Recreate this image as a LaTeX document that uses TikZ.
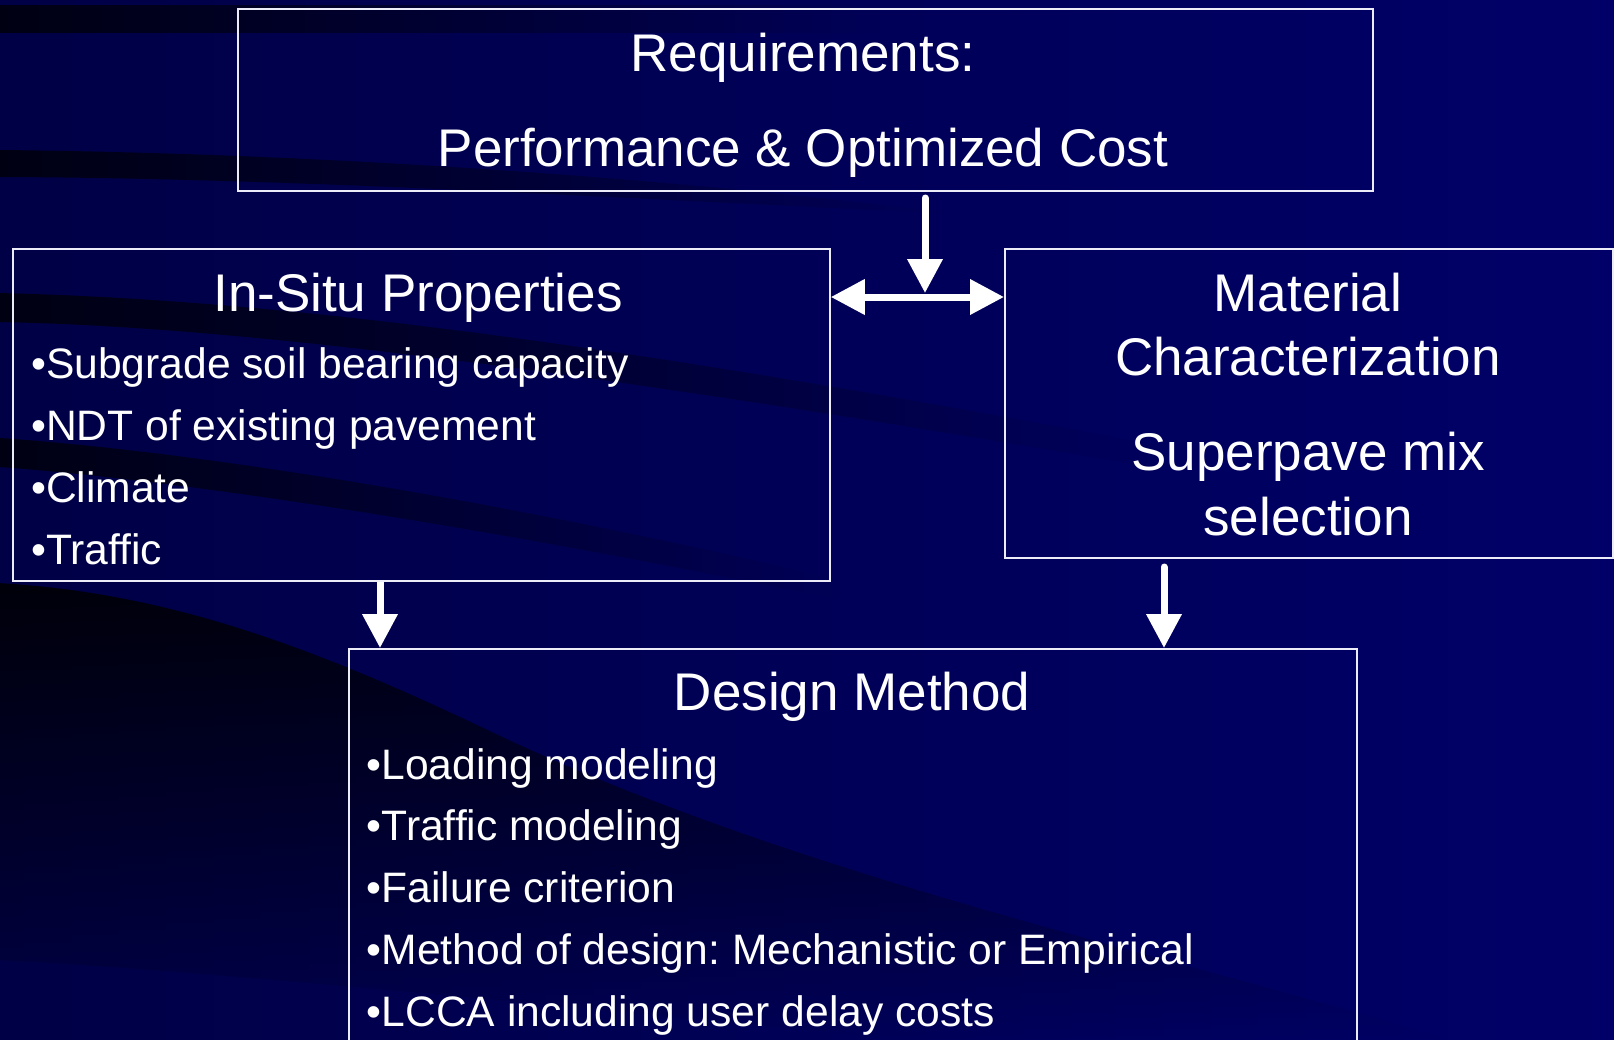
\documentclass[tikz,border=0pt]{standalone}
\usepackage{fontspec}
\setmainfont{Liberation Sans}
\usetikzlibrary{arrows.meta,fadings}
\definecolor{bgleft}{RGB}{0,0,70}
\definecolor{bgright}{RGB}{0,0,104}
\definecolor{boxline}{RGB}{236,236,248}
\tikzset{
  box/.style={draw=boxline, line width=1.8pt, inner sep=0pt, anchor=north west},
  head/.style={text=white, inner sep=0pt, anchor=base, font=\fontsize{53}{60}\selectfont},
  item/.style={text=white, inner sep=0pt, anchor=base west, font=\fontsize{42.6}{50}\selectfont},
  bigarrow/.style={draw=white, line width=7pt, -{Triangle[length=34pt,width=34pt]}},
  dblarrow/.style={draw=white, line width=7pt, {Triangle[length=34pt,width=34pt]}-{Triangle[length=34pt,width=34pt]}},
  band/.style={fill=black, fill opacity=0.72, path fading=east},
}
\frenchspacing
\begin{document}
\begin{tikzpicture}[x=1pt,y=-1pt]
\useasboundingbox (0,0) rectangle (1614,1039);
\clip (0,0) rectangle (1614,1039);
% background
\shade[left color=bgleft, right color=bgright] (0,0) rectangle (1614,1039);
\fill[band] (0,5) rectangle (880,33);
\fill[band] (0,150) .. controls (300,153) and (650,175) .. (960,214)
  .. controls (650,200) and (300,178) .. (0,177) -- cycle;
\fill[band] (0,293) .. controls (200,298) and (500,320) .. (1160,445)
  -- (1160,468) .. controls (500,355) and (200,326) .. (0,322) -- cycle;
\fill[band] (0,438) .. controls (200,452) and (500,500) .. (840,580)
  -- (840,600) .. controls (500,530) and (200,482) .. (0,467) -- cycle;
\fill[black, fill opacity=0.85, path fading=south]
  (0,583) .. controls (160,592) and (300,640) .. (480,725)
  .. controls (800,880) and (1200,960) .. (1450,1039)
  -- (900,1039) .. controls (500,1000) and (200,970) .. (0,960) -- cycle;

% boxes
\node[box, minimum width=1135pt, minimum height=182pt] (req) at (237,8) {};
\node[box, minimum width=817pt, minimum height=332pt] (insitu) at (12,248) {};
\node[box, minimum width=608pt, minimum height=309pt] (mat) at (1004,248) {};
\node[box, minimum width=1008pt, minimum height=420pt] (des) at (348,648) {};

% texts
\node[head] (reqa) at (803,71.7) {Requirements:};
\node[head] (reqb) at (803,166) {Performance \& Optimized Cost};

\node[head] (insitut) at (418,311.7) {In-Situ Properties};
\node[item] (is1) at (31,378.3) {•Subgrade soil bearing capacity};
\node[item] (is2) at (31,440) {•NDT of existing pavement};
\node[item] (is3) at (31,502) {•Climate};
\node[item] (is4) at (31,564) {•Traffic};

\node[head] (mat1) at (1308,311.7) {Material};
\node[head] (mat2) at (1308,375) {Characterization};
\node[head] (mat3) at (1308,470.7) {Superpave mix};
\node[head] (mat4) at (1308,535) {selection};

\node[head] (dest) at (852,710.7) {Design Method};
\node[item] (d1) at (366.5,779) {•Loading modeling};
\node[item] (d2) at (366.5,840.7) {•Traffic modeling};
\node[item] (d3) at (366.5,902.3) {•Failure criterion};
\node[item] (d4) at (366.5,964) {•Method of design: Mechanistic or Empirical};
\node[item] (d5) at (366.5,1026) {•LCCA including user delay costs};

% connectors
\coordinate (hmid) at (925,297);
\coordinate (vtop) at (925,198);
\coordinate (la) at (380,580);
\coordinate (ra) at (1164,567);
\draw[dblarrow] (insitu.east |- hmid) -- (mat.west |- hmid);
\draw[bigarrow, line cap=round, shorten >=4pt] (vtop) -- (hmid);
\draw[bigarrow] (insitu.south -| la) -- (des.north -| la);
\draw[bigarrow, line cap=round] (ra) -- (des.north -| ra);
\end{tikzpicture}
\end{document}
